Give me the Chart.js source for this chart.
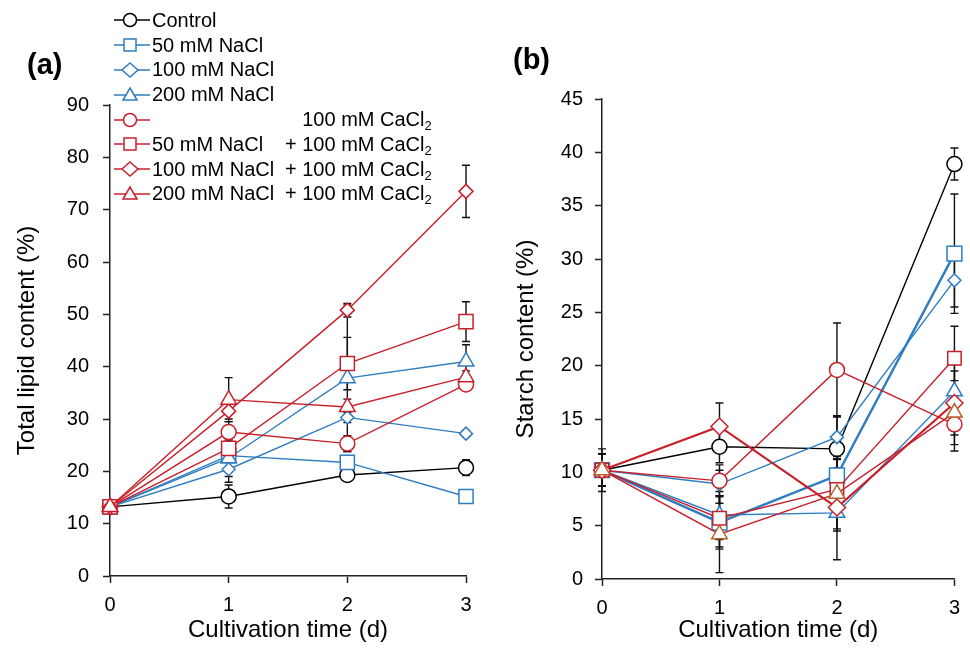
<!DOCTYPE html>
<html>
<head>
<meta charset="utf-8">
<script src="https://cdn.jsdelivr.net/npm/chart.js@4.4.1/dist/chart.umd.min.js"></script>
<style>
    body { margin: 0; background: #fff; width: 970px; height: 653px; position: relative; overflow: hidden;
           font-family: "Liberation Sans", Arial, sans-serif; color: #000; }
    canvas { position: absolute; top: 0; }
    #lipidChart { left: 0; }
    #starchChart { left: 485px; }
    .panel { position: absolute; font-weight: bold; font-size: 29px; line-height: 29px; }
    #legend { position: absolute; left: 114px; top: 8px; font-size: 20px; }
    .row { display: flex; align-items: center; height: 24.8px; white-space: nowrap; }
    .row svg { width: 38px; height: 22px; flex: none; }
    .c1 { display: inline-block; width: 133px; }
    sub { font-size: 13px; vertical-align: -4px; line-height: 0; }
</style>
</head>
<body>
<canvas id="lipidChart" width="485" height="653"></canvas>
<canvas id="starchChart" width="485" height="653"></canvas>
<div class="panel" style="left:27px;top:50px">(a)</div>
<div class="panel" style="left:513px;top:45px">(b)</div>
<div id="legend"></div>

<script>
// ---- data ----
const days = [0, 1, 2, 3];
const lipidTicks = [0, 10, 20, 30, 40, 50, 60, 70, 80, 90];
const starchTicks = [0, 5, 10, 15, 20, 25, 30, 35, 40, 45];

const seriesNames = ['Control', '50 mM NaCl', '100 mM NaCl', '200 mM NaCl',
    '100 mM CaCl2', '50 mM NaCl + 100 mM CaCl2', '100 mM NaCl + 100 mM CaCl2', '200 mM NaCl + 100 mM CaCl2'];

// total lipid content (%)
const lipidControl = [13.2, 15.2, 19.3, 20.7];
const lipidNa50 = [13.2, 23.0, 21.7, 15.2];
const lipidNa100 = [13.2, 20.4, 30.3, 27.2];
const lipidNa200 = [13.2, 22.5, 37.8, 41.0];
const lipidCa = [13.2, 27.5, 25.3, 36.6];
const lipidNa50Ca = [13.2, 24.4, 40.6, 48.6];
const lipidNa100Ca = [13.2, 31.5, 50.8, 73.5];
const lipidNa200Ca = [13.2, 33.7, 32.3, 38.0];

const lipidErrControl = [1.2, 2.2, 0.8, 1.5];
const lipidErrNa50 = [0.8, 1.0, 1.0, 0.8];
const lipidErrNa100 = [0.8, 2.5, 1.0, 0.6];
const lipidErrNa200 = [0.8, 3.5, 14.0, 3.2];
const lipidErrCa = [0.8, 2.0, 1.5, 1.0];
const lipidErrNa50Ca = [0.8, 2.5, 5.0, 3.8];
const lipidErrNa100Ca = [0.8, 1.5, 1.3, 5.0];
const lipidErrNa200Ca = [0.8, 4.2, 1.5, 1.2];

// starch content (%)
const starchControl = [10.2, 12.4, 12.2, 38.9];
const starchNa50 = [10.2, 5.3, 9.7, 30.5];
const starchNa100 = [10.2, 8.9, 13.3, 28.0];
const starchNa200 = [10.2, 6.0, 6.2, 17.6];
const starchCa = [10.2, 9.2, 19.6, 14.5];
const starchNa50Ca = [10.2, 5.7, 8.4, 20.7];
const starchNa100Ca = [10.2, 14.3, 6.7, 16.5];
const starchNa200Ca = [10.2, 4.2, 8.0, 15.6];

const starchErrControl = [2.0, 1.5, 3.0, 1.5];
const starchErrNa50 = [1.5, 2.5, 1.5, 5.6];
const starchErrNa100 = [1.5, 1.8, 2.0, 2.5];
const starchErrNa200 = [1.5, 3.0, 1.5, 2.5];
const starchErrCa = [1.5, 1.0, 4.4, 2.5];
const starchErrNa50Ca = [1.5, 2.0, 2.0, 3.0];
const starchErrNa100Ca = [1.5, 2.2, 4.9, 3.0];
const starchErrNa200Ca = [1.5, 3.6, 3.5, 3.0];

// ---- styles ----
const BLUE = '#2F7DC1', RED = '#C8202B', BROWN = '#B5642A';
const colors = ['#000', BLUE, BLUE, BLUE, RED, RED, RED, RED];
const shapes = ['circle', 'rect', 'rectRot', 'triangle', 'circle', 'rect', 'rectRot', 'triangle'];
const FONT = '"Liberation Sans", Arial, sans-serif';
Chart.defaults.font.family = FONT;
Chart.defaults.color = '#000';

// error bars drawn under the lines/markers
const errorBars = {
    id: 'errorBars',
    beforeDatasetsDraw(chart) {
        const ctx = chart.ctx, ys = chart.scales.y;
        ctx.save();
        ctx.strokeStyle = '#111';
        ctx.lineWidth = 1.4;
        chart.data.datasets.forEach((ds, i) => {
            chart.getDatasetMeta(i).data.forEach((pt, j) => {
                const e = ds.err[j], v = ds.data[j].y;
                const y1 = ys.getPixelForValue(v + e), y2 = ys.getPixelForValue(Math.max(0, v - e));
                ctx.beginPath();
                ctx.moveTo(pt.x, y1); ctx.lineTo(pt.x, y2);
                ctx.moveTo(pt.x - 4, y1); ctx.lineTo(pt.x + 4, y1);
                ctx.moveTo(pt.x - 4, y2); ctx.lineTo(pt.x + 4, y2);
                ctx.stroke();
            });
        });
        ctx.restore();
    }
};

function makeSets(values, errs, radii, widths, pointColors) {
    return values.map((vals, i) => ({
        label: seriesNames[i].replace('CaCl2', 'CaCl\u2082'),
        data: vals.map((v, j) => ({ x: days[j], y: v })),
        err: errs[i],
        borderColor: colors[i],
        borderWidth: widths[i],
        pointBorderColor: pointColors[i],
        pointBackgroundColor: '#fff',
        pointBorderWidth: 1.5,
        pointStyle: shapes[i],
        pointRadius: radii[i],
        tension: 0,
        clip: false,
        order: values.length - i
    }));
}

function makeOptions(o) {
    const axisBase = {
        grid: { drawOnChartArea: false, drawTicks: true, tickLength: 7, tickColor: '#222', tickWidth: 1.5 },
        border: { display: true, color: '#222', width: 1.5 }
    };
    return {
        responsive: false,
        animation: false,
        devicePixelRatio: 1,
        layout: { padding: { left: 0, top: o.top, right: o.right, bottom: 0 } },
        plugins: { legend: { display: false }, tooltip: { enabled: false } },
        scales: {
            x: Object.assign({}, axisBase, {
                type: 'linear', min: 0, max: 3,
                afterBuildTicks: s => { s.ticks = days.map(v => ({ value: v })); },
                afterFit: s => { s.height = o.xh; },
                ticks: { padding: 10, font: { size: 20 }, maxRotation: 0 },
                title: { display: true, text: 'Cultivation time (d)', font: { size: 24 }, padding: { top: 0, bottom: 8 } }
            }),
            y: Object.assign({}, axisBase, {
                type: 'linear', min: 0, max: o.ymax,
                afterBuildTicks: s => { s.ticks = o.ticks.map(v => ({ value: v })); },
                afterFit: s => { s.width = o.yw; },
                ticks: { padding: o.tp, font: { size: 20 } },
                title: { display: true, text: o.title, font: { size: 24 }, padding: { top: o.titlePad, bottom: 0 } }
            })
        }
    };
}

const lipidSets = makeSets(
    [lipidControl, lipidNa50, lipidNa100, lipidNa200, lipidCa, lipidNa50Ca, lipidNa100Ca, lipidNa200Ca],
    [lipidErrControl, lipidErrNa50, lipidErrNa100, lipidErrNa200, lipidErrCa, lipidErrNa50Ca, lipidErrNa100Ca, lipidErrNa200Ca],
    [7.5, 10, 6.5, 9, 7.5, 10, 7, 9],
    [1.4, 1.4, 1.4, 1.4, 1.4, 1.4, 1.4, 1.4],
    colors
);

const starchSets = makeSets(
    [starchControl, starchNa50, starchNa100, starchNa200, starchCa, starchNa50Ca, starchNa100Ca, starchNa200Ca],
    [starchErrControl, starchErrNa50, starchErrNa100, starchErrNa200, starchErrCa, starchErrNa50Ca, starchErrNa100Ca, starchErrNa200Ca],
    [7.5, 10.5, 6.5, 9, 7.5, 9.5, 8.5, 9],
    [1.4, 2.4, 1.4, 1.4, 1.4, 1.4, 2.2, 1.4],
    ['#000', BLUE, BLUE, BLUE, RED, RED, RED, BROWN]
);

new Chart(document.getElementById('lipidChart'), {
    type: 'line',
    data: { datasets: lipidSets },
    options: makeOptions({ top: 105, right: 19, xh: 77, yw: 110, tp: 14, ymax: 90, ticks: lipidTicks,
        title: 'Total lipid content (%)', titlePad: 13 }),
    plugins: [errorBars]
});

new Chart(document.getElementById('starchChart'), {
    type: 'line',
    data: { datasets: starchSets },
    options: makeOptions({ top: 99, right: 12, xh: 74, yw: 117, tp: 12, ymax: 45, ticks: starchTicks,
        title: 'Starch content (%)', titlePad: 27 }),
    plugins: [errorBars]
});

// ---- legend (HTML so CaCl2 gets a real subscript) ----
function markerSvg(shape, color) {
    let m;
    if (shape === 'circle') m = `<circle cx="16" cy="11" r="6.5" fill="#fff" stroke="${color}" stroke-width="1.5"/>`;
    else if (shape === 'rect') m = `<rect x="10" y="5" width="12" height="12" fill="#fff" stroke="${color}" stroke-width="1.5"/>`;
    else if (shape === 'rectRot') m = `<polygon points="16,4 24,11 16,18 8,11" fill="#fff" stroke="${color}" stroke-width="1.5"/>`;
    else m = `<polygon points="16,4 23,16 9,16" fill="#fff" stroke="${color}" stroke-width="1.5"/>`;
    return `<svg viewBox="0 0 38 22"><line x1="0" y1="11" x2="36" y2="11" stroke="${color}" stroke-width="1.4"/>${m}</svg>`;
}
const sub2 = s => s.replace('CaCl2', 'CaCl<sub>2</sub>');
document.getElementById('legend').innerHTML = seriesNames.map((name, i) => {
    let text;
    if (name.includes(' + ')) {
        const [a, b] = name.split(' + ');
        text = `<span class="c1">${a}</span><span>+ ${sub2(b)}</span>`;
    } else if (name.includes('CaCl2')) {
        text = `<span class="c1"></span><span><span style="visibility:hidden">+ </span>${sub2(name)}</span>`;
    } else {
        text = `<span>${name}</span>`;
    }
    return `<div class="row">${markerSvg(shapes[i], colors[i])}${text}</div>`;
}).join('');
</script>
</body>
</html>
